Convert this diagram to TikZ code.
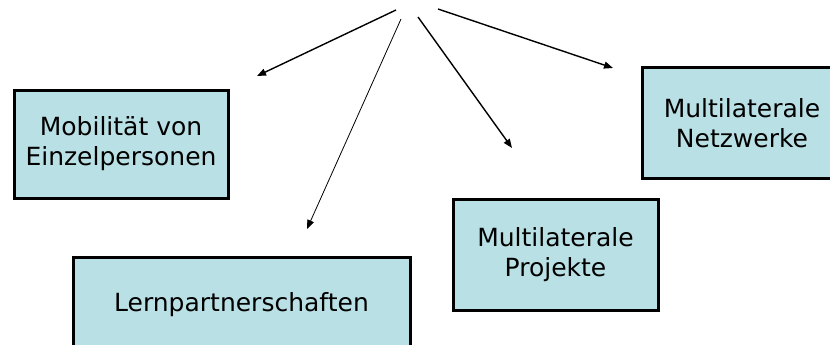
\documentclass[tikz,border=0pt]{standalone}
\usepackage{fontspec}
\setmainfont{DejaVu Sans}
\usetikzlibrary{arrows.meta}
\definecolor{boxfill}{RGB}{185,224,228}
\tikzset{
  prog/.style={draw=black, line width=3pt, fill=boxfill, inner sep=0pt, align=center,
    font=\fontsize{25}{30}\selectfont},
  link/.style={line width=1.4pt, -{Triangle[length=9pt,width=7pt]}},
}
\begin{document}
\begin{tikzpicture}[x=1pt,y=-1pt]
\useasboundingbox (0,0) rectangle (830,345);
\clip (0,0) rectangle (830,345);
\node[prog, minimum width=214pt, minimum height=108pt] (mob) at (121,144) {Mobilität von\\Einzelpersonen};
\node[prog, minimum width=337pt, minimum height=96pt] (lern) at (241.5,305) {Lernpartnerschaften};
\node[prog, minimum width=205pt, minimum height=111pt] (proj) at (555.5,254.5) {Multilaterale\\Projekte};
\node[prog, minimum width=200pt, minimum height=110pt] (netz) at (742,123) {Multilaterale\\Netzwerke};
\coordinate (s1) at (396,10);
\coordinate (e1) at (257,76);
\coordinate (s2) at (401,19);
\coordinate (e2) at (307,229);
\coordinate (s3) at (418,17);
\coordinate (e3) at (512,148);
\coordinate (s4) at (438,9);
\coordinate (e4) at (613,68);
\draw[link] (s1) -- (e1);
\draw[link, line width=0.8pt] (s2) -- (e2);
\draw[link] (s3) -- (e3);
\draw[link] (s4) -- (e4);
\end{tikzpicture}
\end{document}
